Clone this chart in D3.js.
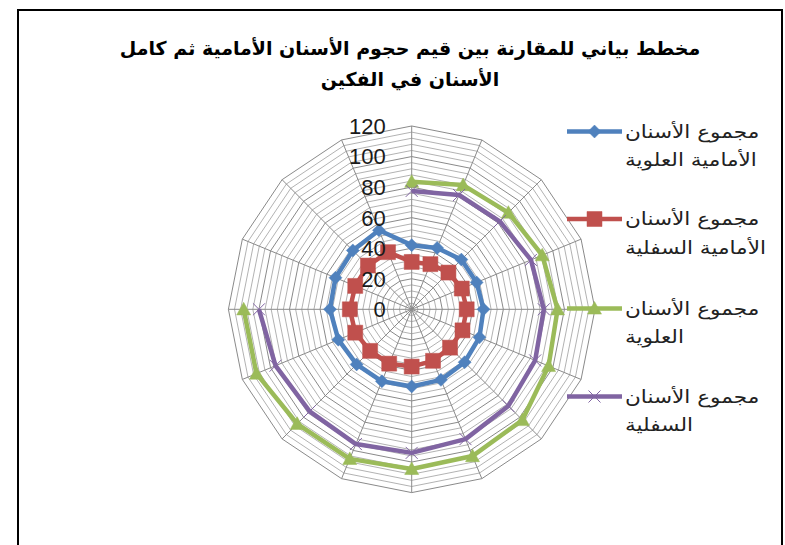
<!DOCTYPE html>
<html>
<head>
<meta charset="utf-8">
<script src="https://cdn.jsdelivr.net/npm/d3@7"></script>
<style>
  html, body { margin: 0; padding: 0; background: #fff; }
  svg { display: block; }
</style>
</head>
<body>
<svg id="chart" width="785" height="545"></svg>
<script>
// Radar chart: front-teeth sums vs. whole-jaw sums (16 measurement points)
const categories = ["1","2","3","4","5","6","7","8","9","10","11","12","13","14","15","16"];

const seriesNames = [
  "مجموع الأسنان الأمامية العلوية",
  "مجموع الأسنان الأمامية السفلية",
  "مجموع الأسنان العلوية",
  "مجموع الأسنان السفلية"
];

const frontUpper = [42, 43.5, 46, 46, 47, 48, 49, 50, 50.5, 51, 51, 52, 53.5, 54, 54.5, 56];
const frontLower = [31, 32, 34, 35.5, 36, 36, 35.5, 36.5, 37.5, 38.5, 38.5, 40, 40.5, 40, 40.5, 40.5];
const wholeUpper = [83.5, 88, 89.5, 92.5, 95.5, 97, 102.5, 104, 104.5, 106, 106, 110, 110, null, null, null];
const wholeLower = [77.5, 81, 81.5, 84.5, 86.5, 87.5, 89.5, 92, 94, 95.5, 94.5, 96.5, 100, null, null, null];

const axisTicks = [0, 20, 40, 60, 80, 100, 120];
const minorStep = 4;

const titleLines = ["مخطط بياني للمقارنة بين قيم حجوم الأسنان الأمامية ثم كامل", "الأسنان في الفكين"];

const legendLines = [
  ["مجموع الأسنان", "الأمامية العلوية"],
  ["مجموع الأسنان", "الأمامية السفلية"],
  ["مجموع الأسنان", "العلوية"],
  ["مجموع الأسنان", "السفلية"]
];

const colors = ["#4F81BD", "#C0504D", "#9BBB59", "#8064A2"];
const markers = ["diamond", "square", "triangle", "x"];
const allSeries = [frontUpper, frontLower, wholeUpper, wholeLower];

const svg = d3.select("#chart");
const cx = 411.7, cy = 309.3, R = 183.3;

// outer chart frame
svg.append("rect")
  .attr("x", 18).attr("y", 10).attr("width", 764).attr("height", 560)
  .attr("fill", "none").attr("stroke", "#000").attr("stroke-width", 2);

// title
svg.append("g").selectAll("text").data(titleLines).join("text")
  .attr("x", 410).attr("y", (d, i) => 55 + i * 31)
  .attr("text-anchor", "middle")
  .attr("font-family", "DejaVu Sans, sans-serif")
  .attr("font-weight", "bold").attr("font-size", 19)
  .attr("fill", "#000")
  .text(d => d);

const rScale = d3.scaleLinear().domain([0, 120]).range([0, R]);
const aScale = d3.scalePoint().domain(categories).range([0, 2 * Math.PI * (categories.length - 1) / categories.length]);

const plot = svg.append("g").attr("transform", `translate(${cx},${cy})`);

// gridlines: minor rings, then major rings, then spokes
const minorVals = d3.range(minorStep, 120 + 0.001, minorStep).filter(v => v % 20 !== 0);
const ringLine = d3.lineRadial().angle(d => aScale(d)).curve(d3.curveLinearClosed);

plot.append("g").selectAll("path").data(minorVals).join("path")
  .attr("d", v => ringLine.radius(() => rScale(v))(categories))
  .attr("fill", "none").attr("stroke", "#a9a9a9").attr("stroke-width", 0.9);

plot.append("g").selectAll("path").data(axisTicks.filter(v => v > 0)).join("path")
  .attr("d", v => ringLine.radius(() => rScale(v))(categories))
  .attr("fill", "none").attr("stroke", "#8a8a8a").attr("stroke-width", 1);

plot.append("g").selectAll("line").data(categories).join("line")
  .attr("x1", 0).attr("y1", 0)
  .attr("x2", c => rScale(120) * Math.sin(aScale(c)))
  .attr("y2", c => -rScale(120) * Math.cos(aScale(c)))
  .attr("stroke", "#8a8a8a").attr("stroke-width", 1);

// marker shapes
function markerPath(type, s) {
  if (type === "diamond") return `M0,${-s}L${s},0L0,${s}L${-s},0Z`;
  if (type === "square") return `M${-s},${-s}H${s}V${s}H${-s}Z`;
  if (type === "triangle") return `M0,${-s}L${s},${s * 0.8}L${-s},${s * 0.8}Z`;
  return `M${-s},${-s}L${s},${s}M${s},${-s}L${-s},${s}`;
}
const markerSize = { diamond: 6.5, square: 7.5, triangle: 7, x: 6 };

// series
allSeries.forEach((vals, si) => {
  const pts = vals.map((v, i) => ({ c: categories[i], v }));
  const complete = vals.every(v => v != null);
  const line = d3.lineRadial()
    .defined(d => d.v != null)
    .angle(d => aScale(d.c))
    .radius(d => rScale(d.v))
    .curve(complete ? d3.curveLinearClosed : d3.curveLinear);
  const g = plot.append("g");
  g.append("path").attr("d", line(pts))
    .attr("fill", "none").attr("stroke", colors[si])
    .attr("stroke-width", 4.5).attr("stroke-linejoin", "round");
  const m = markers[si];
  g.selectAll("path.mk").data(pts.filter(d => d.v != null)).join("path")
    .attr("class", "mk")
    .attr("transform", d => {
      const a = aScale(d.c), r = rScale(d.v);
      return `translate(${r * Math.sin(a)},${-r * Math.cos(a)})`;
    })
    .attr("d", markerPath(m, markerSize[m]))
    .attr("fill", m === "x" ? "none" : colors[si])
    .attr("stroke", colors[si])
    .attr("stroke-width", m === "x" ? 1 : 0.5);
});

// value axis labels along the top spoke
plot.append("g").selectAll("text").data(axisTicks).join("text")
  .attr("x", -26).attr("y", v => -rScale(v))
  .attr("dy", "0.36em")
  .attr("text-anchor", "end")
  .attr("font-family", "Liberation Sans, Arial, sans-serif")
  .attr("font-size", 22)
  .attr("fill", "#1a1a1a")
  .text(v => v);

// legend
const legendY = [131.5, 219, 308.5, 396.5];
const lg = svg.append("g");
legendY.forEach((y, si) => {
  lg.append("line").attr("x1", 567).attr("x2", 622).attr("y1", y).attr("y2", y)
    .attr("stroke", colors[si]).attr("stroke-width", 4.5);
  const m = markers[si];
  lg.append("path").attr("transform", `translate(594.5,${y})`)
    .attr("d", markerPath(m, markerSize[m]))
    .attr("fill", m === "x" ? "none" : colors[si])
    .attr("stroke", colors[si]).attr("stroke-width", m === "x" ? 1 : 0.5);
  lg.append("g").selectAll("text").data(legendLines[si]).join("text")
    .attr("transform", (d, i) => `translate(625,${y + i * 28.5}) scale(1.2,1)`)
    .attr("dy", "0.35em")
    .attr("text-anchor", "start")
    .attr("font-family", "DejaVu Sans, sans-serif")
    .attr("font-size", 18)
    .attr("fill", "#222")
    .text(d => d);
});
</script>
</body>
</html>
